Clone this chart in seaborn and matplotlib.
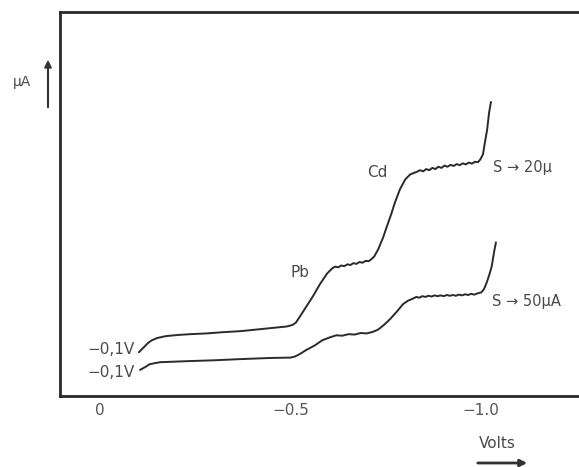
import matplotlib
matplotlib.use("Agg")
import matplotlib.pyplot as plt
import seaborn as sns
import pandas as pd

# Upper polarogram (sensitivity S -> 20 uA); potential in V, current in arbitrary units
upper_v = [-0.102, -0.113, -0.126, -0.136, -0.150, -0.173, -0.205, -0.236, -0.280, -0.320,
           -0.370, -0.420, -0.460, -0.490, -0.505, -0.514, -0.522, -0.533, -0.546, -0.559, -0.577,
           -0.596, -0.609, -0.617, -0.625, -0.633, -0.641, -0.649, -0.657, -0.665, -0.673,
           -0.681, -0.689, -0.697, -0.705, -0.712, -0.720, -0.730, -0.743, -0.753, -0.764,
           -0.774, -0.787, -0.801, -0.814, -0.824, -0.832, -0.840, -0.848, -0.856, -0.864,
           -0.872, -0.880, -0.888, -0.896, -0.904, -0.912, -0.920, -0.928, -0.936, -0.944,
           -0.952, -0.960, -0.968, -0.976, -0.984, -0.992, -0.998, -1.005, -1.010, -1.016,
           -1.021, -1.026]
upper_i = [11.4, 12.5, 13.8, 14.5, 15.1, 15.6, 15.9, 16.1, 16.3, 16.6,
           16.9, 17.4, 17.8, 18.1, 18.5, 19.1, 20.3, 22.0, 24.0, 26.0, 29.1,
           31.9, 33.2, 33.7, 33.5, 34.0, 33.8, 34.3, 34.1, 34.6, 34.4,
           34.9, 34.7, 35.2, 35.1, 35.6, 36.4, 38.2, 41.3, 44.2, 47.3,
           50.4, 53.8, 56.4, 57.7, 58.1, 58.4, 58.8, 58.5, 59.1, 58.8,
           59.4, 59.1, 59.7, 59.4, 60.0, 59.7, 60.2, 59.9, 60.4, 60.1,
           60.6, 60.3, 60.8, 60.5, 61.0, 60.9, 61.6, 62.9, 66.0, 69.4,
           73.8, 76.6]

# Lower polarogram (sensitivity S -> 50 uA)
lower_v = [-0.105, -0.118, -0.131, -0.157, -0.236, -0.300, -0.367, -0.446, -0.500, -0.512,
           -0.524, -0.540, -0.564, -0.583, -0.604, -0.620, -0.636, -0.652, -0.668, -0.684,
           -0.700, -0.716, -0.730, -0.745, -0.761, -0.780, -0.795, -0.808, -0.822, -0.830,
           -0.838, -0.846, -0.854, -0.862, -0.870, -0.878, -0.886, -0.894, -0.902, -0.910,
           -0.918, -0.926, -0.934, -0.942, -0.950, -0.958, -0.966, -0.974, -0.982, -0.990,
           -1.001, -1.008, -1.015, -1.022, -1.028, -1.034, -1.039]
lower_i = [6.8, 7.5, 8.3, 8.8, 9.1, 9.3, 9.6, 9.9, 10.0, 10.3,
           10.9, 11.9, 13.2, 14.5, 15.3, 15.8, 15.7, 16.1, 16.0, 16.4,
           16.3, 16.7, 17.3, 18.5, 20.0, 22.1, 23.9, 24.8, 25.4, 25.8,
           25.6, 26.0, 25.8, 26.1, 25.9, 26.2, 26.0, 26.2, 26.0, 26.3,
           26.1, 26.3, 26.1, 26.4, 26.2, 26.5, 26.3, 26.6, 26.4, 26.7,
           27.0, 27.9, 29.6, 31.7, 33.8, 37.4, 40.0]

tick_values = [0.0, -0.5, -1.0]
tick_labels = ["0", "\u22120.5", "\u22121.0"]

df = pd.concat([
    pd.DataFrame({"V": upper_v, "I": upper_i, "curve": "upper"}),
    pd.DataFrame({"V": lower_v, "I": lower_i, "curve": "lower"}),
])

sns.set_style("white")
plt.rcParams["font.family"] = ["DejaVu Sans"]

fig = plt.figure(figsize=(5.79, 4.67), dpi=100)
ax = fig.add_axes([60 / 579, 1 - 396 / 467, 1 - 60 / 579, (396 - 12) / 467])

sns.lineplot(data=df, x="V", y="I", units="curve", estimator=None, sort=False,
             color="#2a2a2a", linewidth=1.4, ax=ax, legend=False)

ax.set_xlim(0.105, -1.257)
ax.set_ylim(0, 100)
ax.set_xticks(tick_values)
ax.set_xticklabels(tick_labels)
ax.set_yticks([])
ax.set_xlabel("")
ax.set_ylabel("")
ax.tick_params(axis="x", direction="in", length=7.5, width=1.5, color="#2a2a2a",
               pad=5, labelsize=11, labelcolor="#555555")
for side in ["left", "top", "bottom"]:
    ax.spines[side].set_visible(True)
    ax.spines[side].set_color("#2a2a2a")
    ax.spines[side].set_linewidth(2.0)
ax.spines["right"].set_visible(False)

tc = "#4a4a4a"
ax.text(-0.09, 12.2, "\u22120,1V", ha="right", va="center", fontsize=11, color=tc)
ax.text(-0.09, 6.2, "\u22120,1V", ha="right", va="center", fontsize=11, color=tc)
ax.text(-0.525, 32.2, "Pb", ha="center", va="center", fontsize=11, color=tc)
ax.text(-0.727, 58.2, "Cd", ha="center", va="center", fontsize=11, color=tc)
ax.text(-1.031, 59.5, "S \u2192 20\u03bc", ha="left", va="center", fontsize=10.5, color=tc)
ax.text(-1.029, 24.7, "S \u2192 50\u03bcA", ha="left", va="center", fontsize=10.5, color=tc)

fig.text(22 / 579, 1 - 82 / 467, "\u03bcA", ha="center", va="center", fontsize=10, color=tc)
fig.text(497 / 579, 1 - 444 / 467, "Volts", ha="center", va="center", fontsize=11, color=tc)

ax.annotate("", xy=(48 / 579, 1 - 57 / 467), xytext=(48 / 579, 1 - 110 / 467),
            xycoords="figure fraction", textcoords="figure fraction",
            arrowprops=dict(arrowstyle="-|>", color="#333333", lw=1.5, mutation_scale=10),
            annotation_clip=False)
ax.annotate("", xy=(530 / 579, 1 - 463 / 467), xytext=(475 / 579, 1 - 463 / 467),
            xycoords="figure fraction", textcoords="figure fraction",
            arrowprops=dict(arrowstyle="-|>", color="#333333", lw=2.0, mutation_scale=10),
            annotation_clip=False)

fig.savefig("out.png", dpi=100)
